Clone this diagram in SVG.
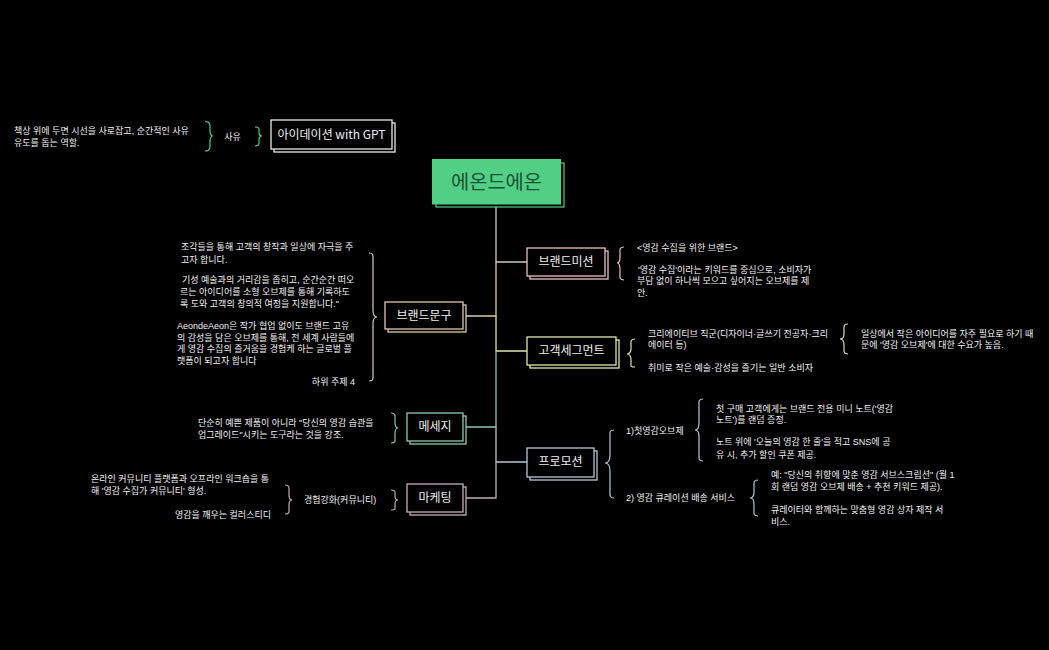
<svg xmlns="http://www.w3.org/2000/svg" width="1049" height="650" viewBox="0 0 1049 650">
<style>
text{font-family:"Noto Sans CJK KR","Noto Sans",sans-serif;fill:#f2f2f2}
.t{font-size:9px;font-family:"Liberation Sans","Noto Sans CJK KR",sans-serif}
.n{font-size:12px;text-anchor:middle;fill:#eeeeee}
.e{text-anchor:end}
.box{fill:#000;stroke-width:1.3}
.c{fill:none;stroke-width:1.3}
.b{fill:none;stroke-width:1.2}
</style>
<rect width="1049" height="650" fill="#000"/>
<g id="connectors">
<path class="c" stroke="#d8c8c4" d="M496 207V262H527"/>
<path class="c" stroke="#e0c8a8" d="M496 262V316H466"/>
<path class="c" stroke="#e0e6a8" d="M496 316V351H527"/>
<path class="c" stroke="#8cc8b0" d="M496 351V427H466"/>
<path class="c" stroke="#b4c8da" d="M496 427V462H527"/>
<path class="c" stroke="#c4acbc" d="M496 462V498H466"/>
</g>
<g id="central">
<rect x="436" y="163" width="128" height="44" fill="#000" stroke="#50cf85" stroke-width="1.2"/>
<rect x="432.500" y="159.500" width="128" height="44.500" fill="#50cf85" stroke="#50cf85"/>
<text x="496.500" y="188.500" style="font-size:19.800px;text-anchor:middle;fill:#1c5034">에온드에온</text>
</g>
<g id="ideation">
<rect class="box" x="274" y="123" width="121" height="29" stroke="#e8e8e8"/>
<rect class="box" x="271" y="120" width="121" height="29" stroke="#e8e8e8"/>
<text class="n" x="331.500" y="139">아이데이션 with GPT</text>
</g>
<g id="idea-brace">
<path class="b" stroke="#50cf85" d="M205 121.500C211 121.500 210 125 210 130C210 134 211 136 213 136C211 136 210 138 210 142C210 147 211 151 205 151"/>
<path class="b" stroke="#50cf85" d="M255 127C260 127 259 129 259 133C259 135 260 136 262 136C260 136 259 137 259 140C259 144 260 146 255 146"/>
<text class="t" x="232.500" y="139.500" text-anchor="middle">사유</text>
<text class="t" x="14" y="134">책상 위에 두면 시선을 사로잡고, 순간적인 사유</text>
<text class="t" x="14" y="145.600">유도를 돕는 역할.</text>
</g>
<g id="brand-phrase">
<rect class="box" x="388" y="305" width="78" height="27" stroke="#e0c8a8"/>
<rect class="box" x="385" y="302" width="78" height="27" stroke="#e0c8a8"/>
<text class="n" x="424" y="320">브랜드문구</text>
<path class="b" stroke="#e0c8a8" d="M369 253C374 253 373 256 373 262V310C373 315 374 317 377 317C374 317 373 319 373 324V372C373 378 374 381 369 381"/>
<text class="t" x="181" y="250">조각들을 통해 고객의 창작과 일상에 자극을 주</text>
<text class="t" x="181" y="262.500">고자 합니다.</text>
<text class="t" x="182" y="283.300"> 기성 예술과의 거리감을 좁히고, 순간순간 떠오</text>
<text class="t" x="180" y="295.300">르는 아이디어를 소형 오브제를 통해 기록하도</text>
<text class="t" x="180" y="307.300">록 도와 고객의 창의적 여정을 지원합니다."</text>
<text class="t" x="177" y="329">AeondeAeon은 작가 협업 없이도 브랜드 고유</text>
<text class="t" x="177" y="340.600">의 감성을 담은 오브제를 통해, 전 세계 사람들에</text>
<text class="t" x="177" y="352.300">게 영감 수집의 즐거움을 경험케 하는 글로벌 플</text>
<text class="t" x="177" y="364">랫폼이 되고자 합니다</text>
<text class="t e" x="355" y="385">하위 주제 4</text>
</g>
<g id="message">
<rect class="box" x="410" y="416" width="56" height="28" stroke="#8cc8b0"/>
<rect class="box" x="407" y="413" width="56" height="28" stroke="#8cc8b0"/>
<text class="n" x="435" y="431">메세지</text>
<path class="b" stroke="#8cc8b0" d="M391 413C396 413 395 416 395 420V422C395 426 396 428 398 428C396 428 395 430 395 434V437C395 441 396 443 391 443"/>
<text class="t" x="198" y="426">단순히 예쁜 제품이 아니라 "당신의 영감 습관을</text>
<text class="t" x="198" y="437.600">업그레이드"시키는 도구라는 것을 강조.</text>
</g>
<g id="marketing">
<rect class="box" x="410" y="487" width="56" height="28" stroke="#c4acbc"/>
<rect class="box" x="407" y="484" width="56" height="28" stroke="#c4acbc"/>
<text class="n" x="435" y="502">마케팅</text>
<path class="b" stroke="#c4acbc" d="M391 490C396 490 395 492 395 495V496C395 498 396 500 398 500C396 500 395 502 395 504V506C395 509 396 510 391 510"/>
<path class="b" stroke="#c4acbc" d="M285 485C290 485 289 488 289 492V495C289 498 290 500 292 500C290 500 289 502 289 505V508C289 512 290 514 285 514"/>
<text class="t" x="304" y="503.300">경험강화(커뮤니티)</text>
<text class="t" x="91" y="482.300">온라인 커뮤니티 플랫폼과 오프라인 워크숍을 통</text>
<text class="t" x="91" y="494.300">해 '영감 수집가 커뮤니티' 형성.</text>
<text class="t e" x="271" y="517.600">영감을 깨우는 컬러스티디</text>
</g>
<g id="brand-mission">
<rect class="box" x="530" y="251" width="78" height="28" stroke="#eac0b8"/>
<rect class="box" x="527" y="248" width="78" height="28" stroke="#eac0b8"/>
<text class="n" x="566" y="266">브랜드미션</text>
<path class="b" stroke="#eac0b8" d="M624 247C619 247 620 250 620 254V257C620 261 619 263 617 263C619 263 620 265 620 269V273C620 277 619 280 624 280"/>
<text class="t" x="637" y="250.600">&lt;영감 수집을 위한 브랜드&gt;</text>
<text class="t" x="638" y="272.600"> '영감 수집'이라는 키워드를 중심으로, 소비자가</text>
<text class="t" x="637" y="284">부담 없이 하나씩 모으고 싶어지는 오브제를 제</text>
<text class="t" x="637" y="296">안.</text>
</g>
<g id="customer-segment">
<rect class="box" x="530" y="340" width="89" height="28" stroke="#e0e6a8"/>
<rect class="box" x="527" y="337" width="89" height="28" stroke="#e0e6a8"/>
<text class="n" x="571.500" y="355">고객세그먼트</text>
<path class="b" stroke="#e0e6a8" d="M635 339C630 339 631 342 631 346V348C631 352 630 354 627 354C630 354 631 356 631 360V362C631 366 630 367 635 367"/>
<text class="t" x="648" y="336.600" textLength="180" lengthAdjust="spacing">크리에이티브 직군(디자이너·글쓰기 전공자·크리</text>
<text class="t" x="648" y="348.300">에이터 등)</text>
<text class="t" x="648" y="370.600" textLength="165" lengthAdjust="spacing">취미로 작은 예술·감성을 즐기는 일반 소비자</text>
<path class="b" stroke="#e0e6a8" d="M848 324C843 324 844 327 844 331V334C844 338 843 339 840 339C843 339 844 341 844 345V347C844 351 843 354 848 354"/>
<text class="t" x="861" y="336.600">일상에서 작은 아이디어를 자주 필요로 하기 때</text>
<text class="t" x="861" y="348.300">문에 '영감 오브제'에 대한 수요가 높음.</text>
</g>
<g id="promotion">
<rect class="box" x="530" y="451" width="67" height="29" stroke="#b4c8da"/>
<rect class="box" x="527" y="448" width="67" height="29" stroke="#b4c8da"/>
<text class="n" x="560.500" y="466">프로모션</text>
<path class="b" stroke="#b4c8da" d="M614 430C609 430 610 433 610 437V455C610 460 609 463 605 463C609 463 610 466 610 471V490C610 494 609 498 614 498"/>
<text class="t" x="626" y="433.600">1)첫영감오브제</text>
<text class="t" x="626" y="501">2) 영감 큐레이션 배송 서비스</text>
<path class="b" stroke="#b4c8da" d="M703 399C698 399 699 402 699 406V423C699 428 698 430 695 430C698 430 699 432 699 437V454C699 458 698 461 703 461"/>
<text class="t" x="716" y="411.600">첫 구매 고객에게는 브랜드 전용 미니 노트('영감</text>
<text class="t" x="716" y="423.300">노트')를 랜덤 증정.</text>
<text class="t" x="716" y="445">노트 위에 '오늘의 영감 한 줄'을 적고 SNS에 공</text>
<text class="t" x="716" y="457.600">유 시, 추가 할인 쿠폰 제공.</text>
<path class="b" stroke="#b4c8da" d="M758 480C753 480 754 483 754 487V492C754 496 753 498 750 498C753 498 754 500 754 504V509C754 513 753 516 758 516"/>
<text class="t" x="771" y="478.300">예: "당신의 취향에 맞춘 영감 서브스크립션" (월 1</text>
<text class="t" x="771" y="490">회 랜덤 영감 오브제 배송 + 추천 키워드 제공).</text>
<text class="t" x="771" y="513.300">큐레이터와 함께하는 맞춤형 영감 상자 제작 서</text>
<text class="t" x="771" y="525">비스.</text>
</g>
</svg>
